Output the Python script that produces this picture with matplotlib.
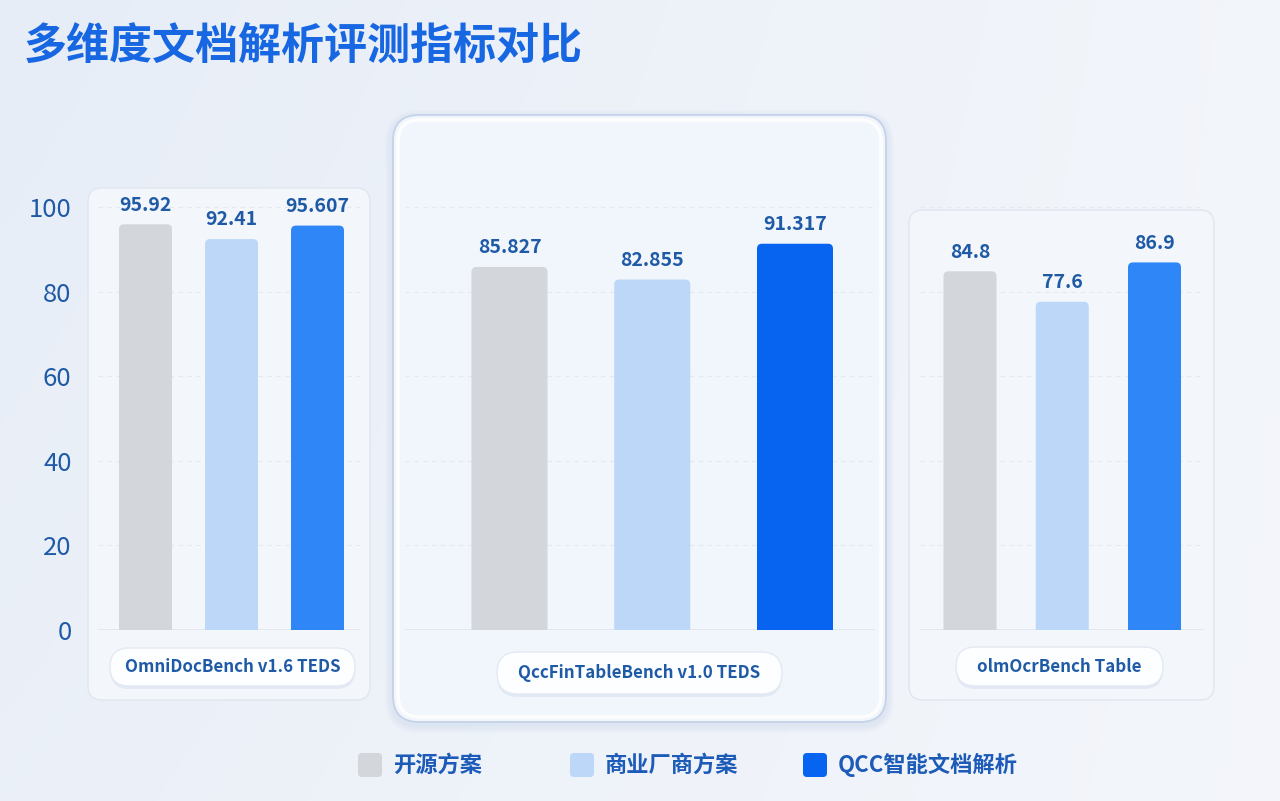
import matplotlib.pyplot as plt
import numpy as np
from matplotlib.patches import FancyBboxPatch


plt.rcParams["font.family"] = ["Noto Sans CJK SC", "DejaVu Sans"]

TITLE = "多维度文档解析评测指标对比"
BENCHMARKS = ["OmniDocBench v1.6 TEDS", "QccFinTableBench v1.0 TEDS", "olmOcrBench Table"]
SERIES = ["开源方案", "商业厂商方案", "QCC智能文档解析"]
OPEN_SOURCE = [95.92, 85.827, 84.8]
COMMERCIAL = [92.41, 82.855, 77.6]
QCC = [95.607, 91.317, 86.9]
Y_TICKS = [0, 20, 40, 60, 80, 100]

W, H = 1280, 801
BASE_PX = 630          # pixel row of value 0
PX_PER_UNIT = 4.23     # pixels per value unit
AX_TOP_PX = 140

GRAY = "#d3d6db"
LIGHT = "#bcd7f7"
BLUE = "#2f86f6"
DEEP_BLUE = "#0764f0"
TEXT_BLUE = "#1f5aa6"

# pixel layout of the three panels
PANELS = [
    dict(box=(88, 188, 370, 700), radius=14, ax=(98, 360), centers=(145.5, 317.5),
         bar_px=53, pill=(110, 648, 355, 686), qcc=BLUE, focus=False),
    dict(box=(393, 115, 886, 722), radius=26, ax=(405, 875), centers=(509.5, 795),
         bar_px=76, pill=(497, 652, 782, 694), qcc=DEEP_BLUE, focus=True),
    dict(box=(909, 210, 1214, 700), radius=14, ax=(920, 1204), centers=(970, 1154.5),
         bar_px=53, pill=(956, 647, 1163, 686), qcc=BLUE, focus=False),
]


def rounded(ax, x0, y0, x1, y1, r, **kw):
    patch = FancyBboxPatch((x0, y0), x1 - x0, y1 - y0,
                           boxstyle=f"round,pad=0,rounding_size={r}", **kw)
    ax.add_patch(patch)
    return patch


def main() -> None:
    fig = plt.figure(figsize=(W / 100, H / 100), dpi=100)

    bg = fig.add_axes([0, 0, 1, 1], zorder=0)
    bg.set_xlim(0, W)
    bg.set_ylim(H, 0)
    bg.axis("off")

    # soft background gradient
    yy, xx = np.mgrid[0:1:200j, 0:1:320j]
    t = np.clip(0.6 * xx + 0.25 * (1 - yy) * xx + 0.3 * yy, 0, 1)[..., None]
    c1 = np.array([0.905, 0.930, 0.968])
    c2 = np.array([0.960, 0.968, 0.985])
    bg.imshow(c1 * (1 - t) + c2 * t, extent=(0, W, H, 0), aspect="auto", zorder=0)

    bg.text(24, 47, TITLE, fontsize=31, fontweight="heavy", color="#1766e2",
            va="center", ha="left")

    for i, p in enumerate(PANELS):
        x0, y0, x1, y1 = p["box"]
        if p["focus"]:
            for k in range(8, 0, -1):
                rounded(bg, x0 - k, y0 - k + 3, x1 + k, y1 + k + 3, p["radius"] + k,
                        fc="#c9d9f2", ec="none", alpha=0.06, zorder=1)
            rounded(bg, x0, y0, x1, y1, p["radius"], fc="#f1f5fc", ec="#c5d3e8",
                    lw=1.3, zorder=2)
            rounded(bg, x0 + 5, y0 + 5, x1 - 5, y1 - 5, p["radius"] - 4, fc="none",
                    ec="white", lw=2.5, alpha=0.9, zorder=2)
        else:
            rounded(bg, x0, y0, x1, y1, p["radius"], fc="#f3f6fb", ec="#e0e6ef",
                    lw=1, zorder=2)

        # benchmark pill
        px0, py0, px1, py1 = p["pill"]
        r = (py1 - py0) / 2
        rounded(bg, px0, py0 + 3, px1, py1 + 3, r, fc="#dbe4f2", ec="none",
                alpha=0.7, zorder=3)
        rounded(bg, px0, py0, px1, py1, r, fc="#fdfeff", ec="#e3e9f3", lw=1, zorder=4)
        bg.text((px0 + px1) / 2, (py0 + py1) / 2, BENCHMARKS[i], fontsize=12.2,
                fontweight="bold", color=TEXT_BLUE, ha="center", va="center", zorder=5)

        # bar axes for this panel
        a0, a1 = p["ax"]
        ax = fig.add_axes([a0 / W, 1 - BASE_PX / H, (a1 - a0) / W,
                           (BASE_PX - AX_TOP_PX) / H], zorder=2)
        ax.patch.set_alpha(0)
        c0, c2 = p["centers"]
        step = (c2 - c0) / 2
        ax.set_xlim((a0 - c0) / step, (a1 - c0) / step)
        ax.set_ylim(0, (BASE_PX - AX_TOP_PX) / PX_PER_UNIT)
        for s in ax.spines.values():
            s.set_visible(False)
        ax.set_xticks([])
        ax.set_yticks(Y_TICKS)
        ax.grid(axis="y", color="#e4e9f1", lw=0.8, ls=(0, (4, 4)))
        ax.set_axisbelow(True)
        ax.axhline(0, color="#dfe5ee", lw=1.2, zorder=1)
        if i == 0:
            ax.tick_params(axis="y", length=0, pad=19, labelsize=18.5, labelcolor=TEXT_BLUE)
        else:
            ax.tick_params(axis="y", length=0, labelleft=False)

        values = [OPEN_SOURCE[i], COMMERCIAL[i], QCC[i]]
        colors = [GRAY, LIGHT, p["qcc"]]
        xs = np.arange(3)
        bars = ax.bar(xs, values, width=p["bar_px"] / step, color=colors, zorder=2)

        # swap the square bars for ones with rounded tops
        x_per_px = 1 / step
        y_per_px = 1 / PX_PER_UNIT
        rad = 5 * x_per_px
        for rect, col in zip(bars.patches, colors):
            bx, by = rect.get_x(), rect.get_y()
            bw, bh = rect.get_width(), rect.get_height()
            rect.set_visible(False)
            ax.add_patch(FancyBboxPatch((bx, by - 10 * y_per_px), bw, bh + 10 * y_per_px,
                                        boxstyle=f"round,pad=0,rounding_size={rad}",
                                        mutation_aspect=y_per_px / x_per_px,
                                        fc=col, ec="none", zorder=2))

        for x, v in zip(xs, values):
            ax.annotate(f"{v:g}", (x, v), xytext=(0, 7), textcoords="offset points",
                        ha="center", va="bottom", fontsize=14, fontweight="bold",
                        color=TEXT_BLUE, annotation_clip=False)

    # legend
    legend_colors = [GRAY, LIGHT, DEEP_BLUE]
    legend_x = [358, 570, 803]
    for name, col, lx in zip(SERIES, legend_colors, legend_x):
        rounded(bg, lx, 753, lx + 24, 777, 4, fc=col, ec="none", zorder=3)
        bg.text(lx + 35, 765, name, fontsize=16, fontweight="bold", color="#1d5bb8",
                ha="left", va="center", zorder=3)

    fig.savefig("out.png", dpi=100)
    plt.close(fig)


if __name__ == "__main__":
    main()
